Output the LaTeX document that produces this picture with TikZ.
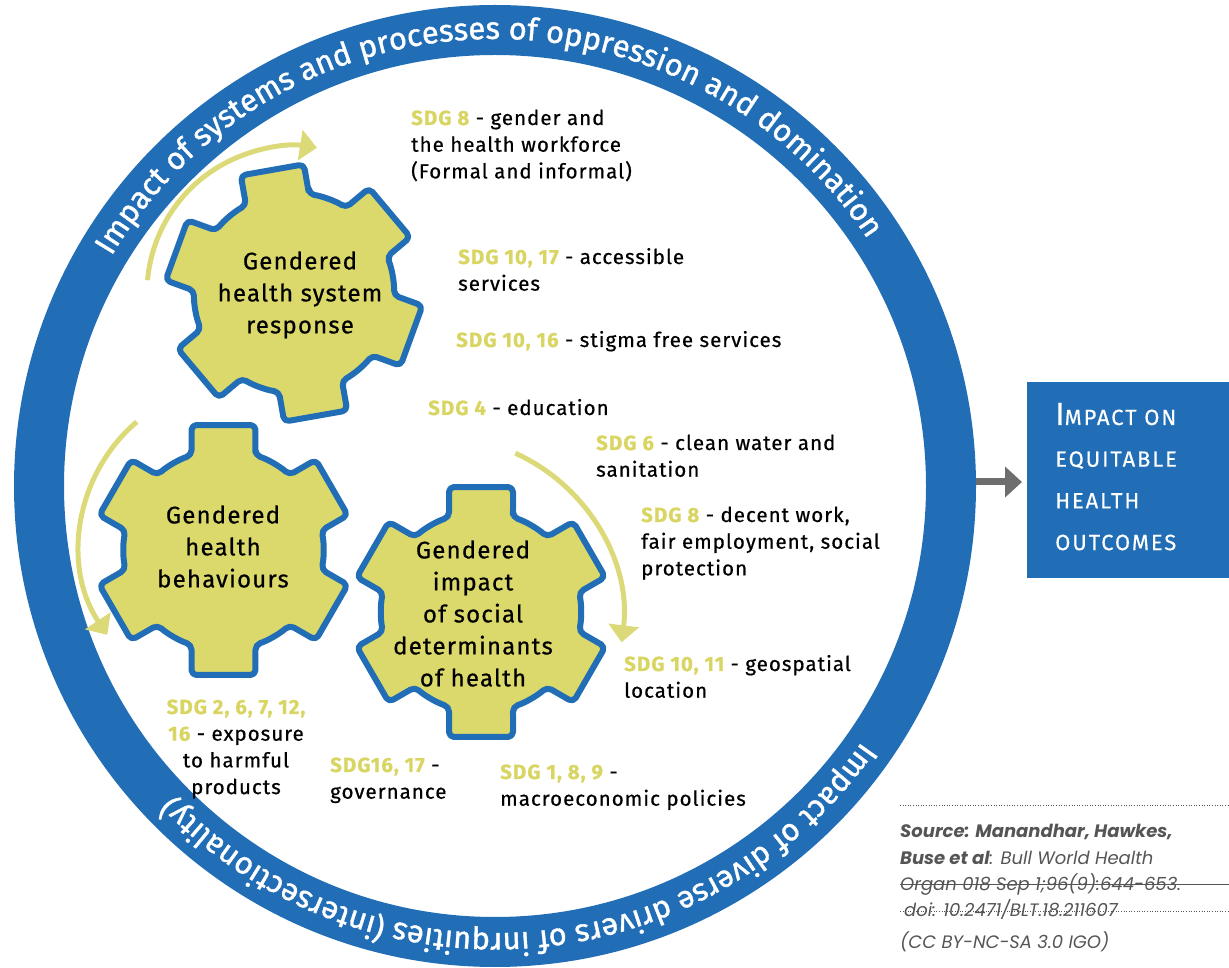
\documentclass[tikz,border=0pt]{standalone}
\usepackage{fontspec}
\setmainfont{Fira Sans}[LetterSpace=5, FakeBold=0.6]
\newfontfamily\ringfam{Fira Sans}[FakeBold=1.2]
\newfontfamily\boxfam{Fira Sans}[LetterSpace=8.5, FakeBold=0.4]
\newfontfamily\srcfont{Poppins}
\usetikzlibrary{arrows.meta,decorations.text}
\definecolor{ringblue}{RGB}{33,110,182}
\definecolor{gearfill}{RGB}{219,217,107}
\definecolor{sdgc}{RGB}{216,213,98}
\definecolor{arrowy}{RGB}{220,218,120}
\definecolor{darrow}{RGB}{110,110,110}
\definecolor{srcgray}{RGB}{85,85,85}
\newcommand{\sdg}[1]{{\bfseries\color{sdgc}#1}}
\newcommand{\ringfont}{\ringfam\fontsize{31}{31}\selectfont}
\newcommand{\drawgear}[3]{%
  \begin{scope}[shift={(#1,#2)}, rotate=#3]
    \draw[gearst] (71.34:100) \foreach \a in {90,150,...,390} {
      -- ({\a-14.36}:129.03) -- ({\a+14.36}:129.03) -- ({\a+18.66}:100)
      arc[start angle={\a+18.66}, end angle={\a+41.34}, radius=100] } -- cycle;
  \end{scope}}
\tikzset{
  gearst/.style={fill=gearfill, draw=ringblue, line width=6pt, rounded corners=5pt, line join=round},
  garrow/.style={draw=arrowy, line width=5pt, -{Triangle[length=17pt,width=30pt]}},
  lab/.style={inner sep=0, anchor=base west, font=\fontsize{20.5}{26.7}\selectfont},
  gtext/.style={inner sep=0, anchor=center, font=\fontsize{24}{32}\selectfont},
}
\begin{document}
\begin{tikzpicture}[x=1pt,y=1pt]
\useasboundingbox (0,0) rectangle (1229,967);
% ring
\draw[ringblue, line width=50pt] (495,481) circle[radius=456];
\path[decorate, decoration={text along path, text align=center,
  text={|\color{white}\ringfont|Impact of systems and processes of oppression and domination}}]
  (495,481) ++(161.3:447) arc[start angle=161.3, end angle=21.3, radius=447];
\path[decorate, decoration={text along path, text align=center,
  text={|\color{white}\ringfont|Impact of diverse drivers of inrquities (intersectionality)}}]
  (495,481) ++(-15.5:447) arc[start angle=-15.5, end angle=-155.5, radius=447];
% yellow arrows
\draw[garrow] (294,674) ++(175:147) arc[start angle=175, end angle=81, radius=147];
\draw[garrow] (242,422) ++(130.5:162) arc[start angle=130.5, end angle=213.7, radius=162];
\draw[garrow] (440,347) ++(65.7:183) arc[start angle=65.7, end angle=-7, radius=183];
% gears
\drawgear{294}{674}{10}
\drawgear{223.5}{417}{0}
\drawgear{481}{355}{0}
\node[gtext] (g1) at (300,672) {\begin{tabular}{@{}c@{}}Gendered\\health system\\response\end{tabular}};
\node[gtext] (g2) at (223,418) {\begin{tabular}{@{}c@{}}Gendered\\health\\behaviours\end{tabular}};
\node[gtext] (g3) at (473,351) {\begin{tabular}{@{}c@{}}Gendered\\impact\\of social\\determinants\\of health\end{tabular}};
% SDG labels
\node[lab] (l1) at (411,842) {\begin{tabular}[t]{@{}l@{}}\sdg{SDG 8} - gender and\\the health workforce\\(Formal and informal)\end{tabular}};
\node[lab] (l2) at (458,703) {\begin{tabular}[t]{@{}l@{}}\sdg{SDG 10, 17} - accessible\\services\end{tabular}};
\node[lab] (l3) at (456,620) {\sdg{SDG 10, 16} - stigma free services};
\node[lab] (l4) at (428,552) {\sdg{SDG 4} - education};
\node[lab] (l5) at (596,517) {\begin{tabular}[t]{@{}l@{}}\sdg{SDG 6} - clean water and\\sanitation\end{tabular}};
\node[lab] (l6) at (641,445) {\begin{tabular}[t]{@{}l@{}}\sdg{SDG 8} - decent work,\\fair employment, social\\protection\end{tabular}};
\node[lab] (l7) at (624,296) {\begin{tabular}[t]{@{}l@{}}\sdg{SDG 10, 11} - geospatial\\location\end{tabular}};
\node[lab, anchor=base] (l8) at (236,253) {\begin{tabular}[t]{@{}c@{}}\sdg{SDG 2, 6, 7, 12,}\\\sdg{16} - exposure\\to harmful\\products\end{tabular}};
\node[lab] (l9) at (330,195) {\begin{tabular}[t]{@{}l@{}}\sdg{SDG16, 17} -\\governance\end{tabular}};
\node[lab] (l10) at (500,188) {\begin{tabular}[t]{@{}l@{}}\sdg{SDG 1, 8, 9} -\\macroeconomic policies\end{tabular}};
% outcome box
\node[fill=ringblue, minimum width=202pt, minimum height=196pt, inner sep=0, anchor=south west] (box) at (1027,389) {};
\node[anchor=base west, inner sep=0, text=white, font=\boxfam\fontsize{22}{41.7}\selectfont] (boxtext) at (1055,542)
  {\begin{tabular}[t]{@{}l@{}}{\fontsize{32}{32}\selectfont I}MPACT ON\\EQUITABLE\\HEALTH\\OUTCOMES\end{tabular}};
\coordinate (ringE) at (976,485);
\draw[darrow, line width=7pt, -{Triangle[length=17pt,width=30pt]}, shorten >=5pt] (ringE) -- (ringE -| box.west);
% source
\draw[srcgray, dotted, line width=0.6pt] (900,162) -- (1229,162);
\node[anchor=base west, inner sep=0, text=srcgray, font=\srcfont\itshape\fontsize{18}{26.3}\selectfont] (src) at (900,129)
  {\begin{tabular}[t]{@{}l@{}}\textbf{Source: Manandhar, Hawkes,}\\\textbf{Buse et al}: Bull World Health\\Organ 018 Sep 1;96(9):644-653.\\\hspace{4pt}doi: 10.2471/BLT.18.211607\\[5.7pt](CC BY-NC-SA 3.0 IGO)\end{tabular}};
\draw[srcgray, line width=0.6pt] (900,83) -- (1229,83);
\draw[srcgray, dotted, line width=0.6pt] (900,56) -- (1229,56);
\end{tikzpicture}
\end{document}
